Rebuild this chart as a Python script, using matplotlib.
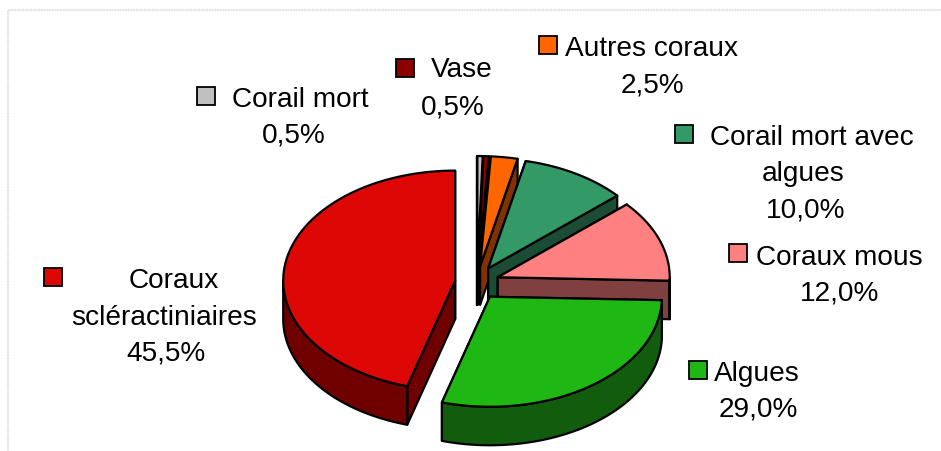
import numpy as np
import matplotlib
matplotlib.use("Agg")
import matplotlib.pyplot as plt
from matplotlib.patches import Polygon, Rectangle

plt.rcParams["font.family"] = ["Liberation Sans", "DejaVu Sans"]

# Data, clockwise from 12 o'clock
categories = ["Corail mort", "Vase", "Autres coraux", "Corail mort avec algues",
              "Coraux mous", "Algues", "Coraux scléractiniaires"]
values = [0.5, 0.5, 2.5, 10.0, 12.0, 29.0, 45.5]

top_colors = ["#C0C0C0", "#8B0000", "#FF6600", "#339966", "#FF8080", "#1FB714", "#DD0806"]
side_colors = ["#606060", "#460000", "#803300", "#1A4D33", "#804040", "#125D0D", "#700000"]

# Pie geometry in pixels
cx, cy = 477, 284
rx, ry = 172, 110
depth = 38.5
explode_x, explode_y = 22, 17
edge_lw = 1.6

# How each label is broken and placed: key box (x, y), then one (x, baseline) per line
label_lines = [["Corail mort"], ["Vase"], ["Autres coraux"], ["Corail mort avec", "algues"],
               ["Coraux mous"], ["Algues"], ["Coraux", "scléractiniaires"]]
key_pos = [(197, 88), (396, 60), (539, 37), (675, 126), (729, 245), (689, 362), (44, 269)]
line_pos = [
    [(300, 107), (294, 143)],
    [(462, 77), (453, 114)],
    [(652, 56), (652, 92)],
    [(812, 145), (803, 181), (806, 218)],
    [(839, 265), (840, 301)],
    [(757, 381), (758, 417)],
    [(174, 288), (164, 325), (166, 361)],
]

fig = plt.figure(figsize=(9.41, 4.52), dpi=100)
ax = fig.add_axes([0, 0, 1, 1])
ax.set_xlim(0, 941)
ax.set_ylim(452, 0)
ax.axis("off")

# Light dotted frame of the chart area
ax.plot([8, 8, 941], [452, 11, 11], color="#E4E4E4", lw=1.5, ls=(0, (1, 0.3)))


def rim(ax0, ay0, start, end):
    t = np.radians(np.linspace(start, end, 80))
    return np.column_stack([ax0 + rx * np.sin(t), ay0 - ry * np.cos(t)])


def draw_slice(i, start, end):
    mid = np.radians((start + end) / 2)
    ax0 = cx + explode_x * np.sin(mid)
    ay0 = cy - explode_y * np.cos(mid)
    style = dict(edgecolor="black", lw=edge_lw, joinstyle="round")

    # cut faces
    for ang in (start, end):
        p = rim(ax0, ay0, ang, ang)[0]
        quad = [(ax0, ay0), p, (p[0], p[1] + depth), (ax0, ay0 + depth)]
        ax.add_patch(Polygon(quad, facecolor=side_colors[i], **style))

    # outer wall, only the part facing the viewer
    a, b = max(start, 90), min(end, 270)
    if b > a:
        r = rim(ax0, ay0, a, b)
        wall = np.vstack([r, r[::-1] + [0, depth]])
        ax.add_patch(Polygon(wall, facecolor=side_colors[i], **style))

    # top
    top = np.vstack([[(ax0, ay0)], rim(ax0, ay0, start, end)])
    ax.add_patch(Polygon(top, facecolor=top_colors[i], **style))


# Angles from the values
bounds = np.concatenate([[0], np.cumsum(values)]) * 360 / sum(values)

# Back slices first, the two large front ones last
for i in [0, 1, 2, 3, 4, 6, 5]:
    draw_slice(i, bounds[i], bounds[i + 1])

# Labels with their key boxes
for i, name in enumerate(categories):
    kx, ky = key_pos[i]
    ax.add_patch(Rectangle((kx, ky), 18, 18, facecolor=top_colors[i],
                           edgecolor="black", lw=1.3))
    pct = f"{values[i]:.1f}".replace(".", ",") + "%"
    for txt, (x, y) in zip(label_lines[i] + [pct], line_pos[i]):
        ax.text(x, y, txt, ha="center", va="baseline", fontsize=20.2, color="black")

fig.savefig("out.png", dpi=100, facecolor="white")
